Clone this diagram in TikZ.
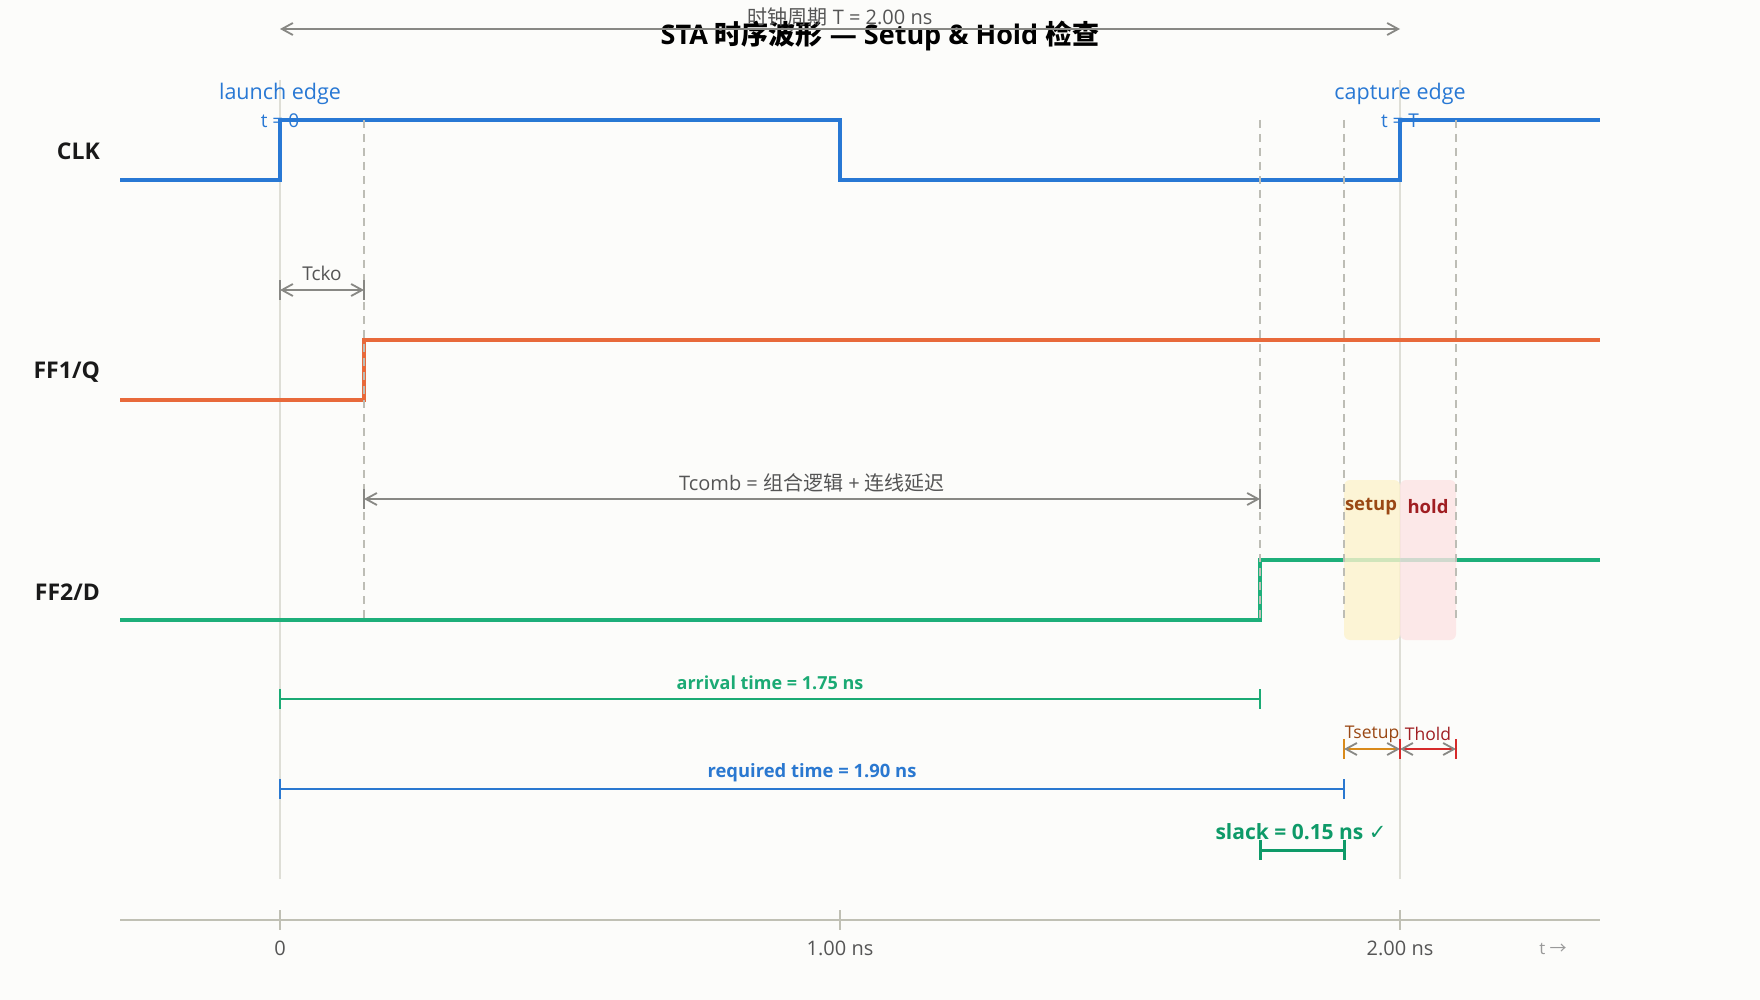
\documentclass[tikz,border=0pt]{standalone}
\usepackage{fontspec}
\setmainfont{Open Sans}
\newfontfamily\cjk{Noto Sans CJK SC}
\newfontfamily\symb{DejaVu Sans}
\usepackage{xcolor}
\usetikzlibrary{arrows.meta}

\definecolor{bgcol}{HTML}{FCFCFA}
\definecolor{clkblue}{HTML}{2878D4}
\definecolor{ffone}{HTML}{E8693A}
\definecolor{fftwo}{HTML}{1DAF7A}
\definecolor{arrgreen}{HTML}{1BAA74}
\definecolor{reqblue}{HTML}{2A78D0}
\definecolor{slackgreen}{HTML}{0E9A68}
\definecolor{setupline}{HTML}{D98A1A}
\definecolor{setuptext}{HTML}{9A4814}
\definecolor{holdline}{HTML}{D62A2A}
\definecolor{holdtext}{HTML}{A01E22}
\definecolor{setupfill}{HTML}{FDF3CC}
\definecolor{holdfill}{HTML}{FDE4E4}
\definecolor{dimgray}{HTML}{888884}
\definecolor{textgray}{HTML}{555555}
\definecolor{dashgray}{HTML}{BDBDB5}
\definecolor{guidegray}{HTML}{DEDED6}
\definecolor{axisgray}{HTML}{C0C0B4}

\begin{document}
\begin{tikzpicture}[x=1pt, y=-1pt,
	wave/.style={line width=3.5pt, line join=miter},
	guide/.style={draw=guidegray, line width=1.5pt},
	dashline/.style={draw=dashgray, line width=1.5pt, dash pattern=on 8pt off 6pt},
	dimarrow/.style={draw=dimgray, line width=1.8pt, {Straight Barb[length=11pt, width=12pt, color=dimgray]}-{Straight Barb[length=11pt, width=12pt, color=dimgray]}},
	tickmark/.style={line width=1.8pt},
	signame/.style={anchor=east, font=\fontsize{23}{25}\selectfont\bfseries, text=black!90},
	every node/.style={inner sep=0pt}]
			\fill[bgcol] (0, 0) rectangle (1760, 1000);
			
			\draw[guide] (280, 80) -- (280, 879);
			\draw[guide] (1400, 80) -- (1400, 879);
			
			\node (title) at (880, 36) {\fontsize{27}{30}\selectfont\bfseries STA {\cjk\bfseries 时序波形} — Setup \& Hold {\cjk\bfseries 检查}};
			\coordinate (perA) at (280, 29);
			\coordinate (perB) at (1400, 29);
			\draw[dimarrow] (perA) -- (perB);
			\node[text=textgray] (period) at (840, 17) {\fontsize{20}{22}\selectfont{\cjk 时钟周期} T = 2.00 ns};
			
			\node[text=clkblue] (launch) at (280, 94) {\fontsize{21.5}{24}\selectfont launch edge};
			\node[text=clkblue] (tzero) at (280, 121) {\fontsize{19}{21}\selectfont t = 0};
			\node[text=clkblue] (capture) at (1400, 94) {\fontsize{21.5}{24}\selectfont capture edge};
			\node[text=clkblue] (tcap) at (1400, 121) {\fontsize{19}{21}\selectfont t = T};
			
			\node[signame] (clk) at (100, 151) {CLK};
			\node[signame] (ffq) at (100, 372) {FF1/Q};
			\node[signame] (ffd) at (100, 592) {FF2/D};
			
			\draw[wave, clkblue] (120, 180) -- (280, 180) -- (280, 120) -- (840, 120) -- (840, 180) -- (1400, 180) -- (1400, 120) -- (1600, 120);
			\draw[wave, ffone] (120, 400) -- (364, 400) -- (364, 340) -- (1600, 340);
			\draw[wave, fftwo] (120, 620) -- (1260, 620) -- (1260, 560) -- (1600, 560);
			
			\fill[setupfill, opacity=0.8, rounded corners=6pt] (1344, 480) rectangle (1400, 640);
			\fill[holdfill, opacity=0.8, rounded corners=6pt] (1400, 480) rectangle (1456, 640);
			\node[text=setuptext] (setup) at (1371, 507) {\fontsize{18.5}{20}\selectfont\bfseries setup};
			\node[text=holdtext] (hold) at (1428, 507) {\fontsize{18.5}{20}\selectfont\bfseries hold};
			
			\draw[dashline] (364, 120) -- (364, 620);
			\draw[dashline] (1260, 120) -- (1260, 620);
			\draw[dashline] (1344, 120) -- (1344, 620);
			\draw[dashline] (1456, 120) -- (1456, 620);
			
			\coordinate (ckoA) at (280, 290);
			\coordinate (ckoB) at (364, 290);
			\draw[tickmark, dimgray] (280, 280) -- (280, 300);
			\draw[tickmark, dimgray] (364, 280) -- (364, 300);
			\draw[dimarrow] (ckoA) -- (ckoB);
			\node[text=textgray] (tcko) at (322, 273) {\fontsize{19}{21}\selectfont Tcko};
			
			\coordinate (combA) at (364, 499);
			\coordinate (combB) at (1260, 499);
			\draw[tickmark, dimgray] (364, 489) -- (364, 509);
			\draw[tickmark, dimgray] (1260, 489) -- (1260, 509);
			\draw[dimarrow] (combA) -- (combB);
			\node[text=textgray] (tcomb) at (812, 483) {\fontsize{20}{22}\selectfont Tcomb = {\cjk 组合逻辑} + {\cjk 连线延迟}};
			
			\coordinate (arrA) at (280, 699);
			\coordinate (arrB) at (1260, 699);
			\draw[tickmark, arrgreen] (280, 689) -- (280, 709);
			\draw[tickmark, arrgreen] (1260, 689) -- (1260, 709);
			\draw[arrgreen, line width=1.8pt] (arrA) -- (arrB);
			\node[text=arrgreen] (arrival) at (770, 683) {\fontsize{18}{20}\selectfont\bfseries arrival time = 1.75 ns};
			
			\coordinate (reqA) at (280, 789);
			\coordinate (reqB) at (1344, 789);
			\draw[tickmark, reqblue] (280, 779) -- (280, 799);
			\draw[tickmark, reqblue] (1344, 779) -- (1344, 799);
			\draw[reqblue, line width=1.8pt] (reqA) -- (reqB);
			\node[text=reqblue] (required) at (812, 773) {\fontsize{18.4}{20}\selectfont\bfseries required time = 1.90 ns};
			
			\coordinate (suA) at (1344, 749);
			\coordinate (suB) at (1400, 749);
			\coordinate (hdB) at (1456, 749);
			\draw[tickmark, setupline] (1344, 739) -- (1344, 759);
			\draw[dimarrow, setupline] (suA) -- (suB);
			\draw[dimarrow, holdline] (suB) -- (hdB);
			\draw[tickmark, holdline] (1400, 739) -- (1400, 759);
			\draw[tickmark, holdline] (1456, 739) -- (1456, 759);
			\node[text=setuptext] (tsetup) at (1372, 734) {\fontsize{17.5}{19}\selectfont Tsetup};
			\node[text=holdtext] (thold) at (1428, 734) {\fontsize{17.5}{19}\selectfont Thold};
			
			\coordinate (slA) at (1260, 850);
			\coordinate (slB) at (1344, 850);
			\draw[slackgreen, line width=3pt] (1260, 840) -- (1260, 860);
			\draw[slackgreen, line width=3pt] (1344, 840) -- (1344, 860);
			\draw[slackgreen, line width=3pt] (slA) -- (slB);
			\node[text=slackgreen] (slack) at (1301, 832) {\fontsize{21}{23}\selectfont\bfseries slack = 0.15 ns {\symb\bfseries ✓}};
			
			\coordinate (axA) at (120, 920);
			\coordinate (axB) at (1600, 920);
			\draw[axisgray, line width=2pt] (axA) -- (axB);
			\draw[axisgray, line width=2pt] (280, 910) -- (280, 930);
			\draw[axisgray, line width=2pt] (840, 910) -- (840, 930);
			\draw[axisgray, line width=2pt] (1400, 910) -- (1400, 930);
			\node[text=textgray] (lzero) at (280, 948) {\fontsize{20}{22}\selectfont 0};
			\node[text=textgray] (lone) at (840, 948) {\fontsize{20}{22}\selectfont 1.00 ns};
			\node[text=textgray] (ltwo) at (1400, 948) {\fontsize{20}{22}\selectfont 2.00 ns};
			\node[text=black!40] (taxis) at (1553, 949) {\fontsize{17}{19}\selectfont t {\cjk →}};
		\end{tikzpicture}
\end{document}
